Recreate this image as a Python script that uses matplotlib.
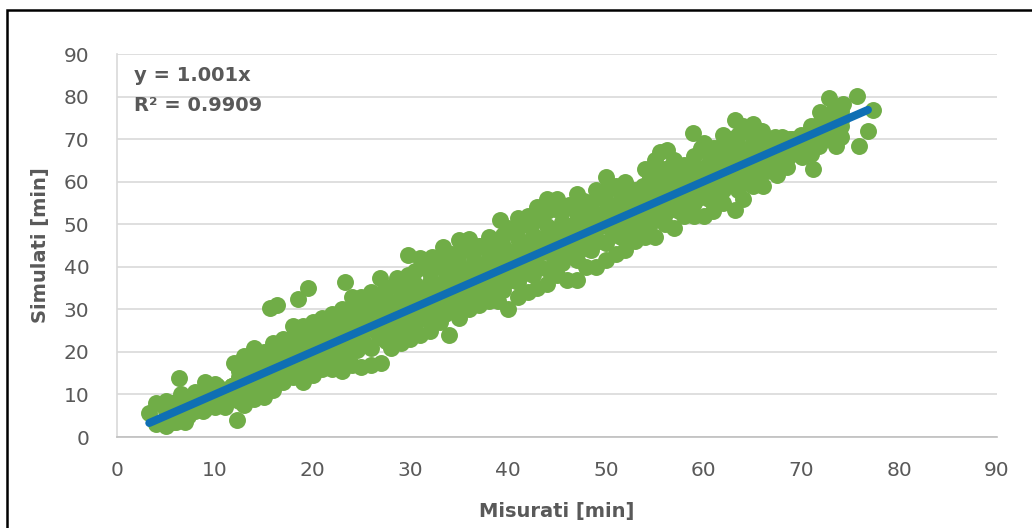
import matplotlib
matplotlib.use("Agg")
import matplotlib.pyplot as plt
from matplotlib.patches import Rectangle

plt.rcParams['font.family'] = ['DejaVu Sans']

# upper edge of the cloud (Misurati, Simulati) [min]
upper_x = [3.3, 4, 5, 6.3, 6.5, 8, 9, 10, 11, 12, 13, 14, 15, 15.6, 16.4, 16, 17, 18, 18.5, 19.5,
           19, 20, 21, 22, 23.3, 23, 24, 25, 26, 26.9, 28.6, 29.8, 31, 32.2, 33.3, 35, 36, 37, 38, 39.2,
           40, 41, 42, 43, 44, 45, 46, 47, 48, 49, 50, 51, 52, 53, 54, 55, 55.5, 56.2, 57, 58,
           58.9, 60, 61, 62, 63.2, 64, 65, 66, 67, 68, 69, 70, 71, 71.9, 72.8, 74.2, 75.7, 77.3]
upper_y = [5.6, 8, 8.5, 13.9, 10, 10.5, 13, 12.5, 11, 17.5, 19, 21, 20, 30.3, 31, 22, 23, 26, 32.4, 35,
           26, 27, 28, 29, 36.4, 30, 33, 33, 34, 37.4, 37.4, 42.8, 42, 42.3, 44.6, 46.3, 46.5, 45, 47, 51,
           49, 51.5, 52, 54, 56, 56, 54, 57, 55, 58, 61, 59, 60, 58, 63, 65, 67, 67.4, 65, 64,
           71.4, 69, 68, 71, 74.5, 73, 73.5, 72, 70, 70.5, 70, 71, 73, 76.4, 79.7, 78.2, 80.1, 76.8]

# lower edge of the cloud
lower_x = [4, 5, 6, 7, 8, 9, 10, 11, 12.3, 13, 14, 15, 16, 17, 18, 19, 20, 21, 22, 23, 24, 25, 26, 27,
           28, 29, 30, 31, 32, 33, 34, 35, 36, 37, 38, 39, 40, 41, 42, 43, 44, 45, 46, 47, 48, 49, 50,
           51, 52, 53, 54, 55, 56, 57, 58, 59, 60, 61, 62, 63.2, 64, 65, 66.1, 67.5, 68.5, 70.1, 71.2,
           73.5, 75.9, 76.8]
lower_y = [3, 2.5, 3.5, 3.5, 6, 6.5, 7, 7, 4, 7.5, 9, 9.5, 11, 13, 14, 13, 14.5, 16, 16, 15.5, 17, 16.5,
           17, 17.5, 21, 22, 23, 24, 25, 27, 24, 28, 30, 31, 32, 32, 30, 33, 34, 35, 36, 38, 37, 37, 40,
           40, 41.5, 43, 44, 46, 47, 47, 50, 49, 52, 52, 52, 53, 55, 53.3, 56, 59, 59, 61.6, 63.4, 65.8,
           63, 68.4, 68.4, 71.9]

# inner part of the cloud, read column by column
mid_x = [5, 6.5, 8, 9.5, 11, 12.5, 14, 15.5, 17, 18.5, 20, 21.5, 23, 24.5, 26, 27.5, 29, 30.5, 32, 33.5,
         35, 36.5, 38, 39.5, 41, 42.5, 44, 45.5, 47, 48.5, 50, 51.5, 53, 54.5, 56, 57.5, 59, 60.5, 62, 63.5,
         65, 66.5, 68, 69.5, 71, 72.5, 74]
mid_a = [3.5, 4.5, 6.5, 7.5, 8.5, 8.5, 11, 12, 14.5, 15.5, 16.5, 18, 19, 20.5, 21, 22.5, 25, 26.5, 28, 29,
         31, 33, 34.5, 34.5, 36.5, 38, 39.5, 41, 41.5, 44, 45.5, 47, 49, 50, 52.5, 53, 55, 56, 58, 58,
         61.5, 62.5, 65, 67, 66.5, 70, 70.5]
mid_b = [4.5, 5.5, 7.5, 8.5, 10, 11, 13.5, 14.5, 16, 17, 19.5, 20.5, 21.5, 23.5, 25.5, 26.5, 27.5, 29.5, 31.5, 32.5,
         33.5, 35.5, 37.5, 38.5, 39.5, 41.5, 43.5, 44.5, 45.5, 47.5, 49.5, 50.5, 51.5, 53.5, 55.5, 56.5, 57.5, 59.5, 61.5, 62.5,
         63.5, 65.5, 67.5, 68, 69.5, 71.5, 73]
mid_c = [6, 7.5, 9, 11, 11, 14, 16, 17.5, 19.5, 20.5, 22.5, 24, 25.5, 26.5, 28.5, 30, 31.5, 32.5, 34.5, 36,
         37.5, 38.5, 40.5, 42, 43.5, 44.5, 46.5, 48, 49.5, 50.5, 52.5, 54, 55.5, 56.5, 58.5, 60, 61.5, 62.5, 64.5, 66,
         67.5, 68, 69, 70, 71.5, 73.5, 75.5]
mid_d = [7.5, 9, 9, 11.5, 10.5, 15.5, 17.5, 18.5, 20.5, 22.5, 24, 25.5, 27, 29, 30.5, 32.5, 34, 36, 36.5, 39,
         40.5, 41.5, 43, 45, 46.5, 47.5, 49.5, 50.5, 52.5, 53, 55.5, 56, 56.5, 59, 61, 61.5, 64, 64.5, 66.5, 68.5,
         69.5, 69, 68.5, 69.5, 71, 74, 74.5]
mid_e = [7, 9, 9.5, 11, 10.5, 16, 19, 19.5, 21.5, 24, 26, 27, 28.5, 31, 32.5, 35, 36, 39, 38.5, 41.5,
         43, 44, 45, 47.5, 49, 50.5, 53, 53, 55, 55, 58, 57.5, 57, 61, 63, 62.5, 66, 66.5, 68.5, 71,
         71.5, 70, 69.5, 70, 72, 75.5, 76.5]

# second set of columns, between the first ones
stag_x = [5.75, 7.25, 8.75, 10.25, 11.75, 13.25, 14.75, 16.25, 17.75, 19.25, 20.75, 22.25, 23.75, 25.25,
          26.75, 28.25, 29.75, 31.25, 32.75, 34.25, 35.75, 37.25, 38.75, 40.25, 41.75, 43.25, 44.75, 46.25,
          47.75, 49.25, 50.75, 52.25, 53.75, 55.25, 56.75, 58.25, 59.75, 61.25, 62.75, 64.25, 65.75, 67.25,
          68.75, 70.25, 71.75, 73.25]
stag_a = [3.5, 5, 6, 7.5, 9, 10, 11.5, 13, 15, 16, 17.5, 19, 20.5, 22, 23.5, 25, 26.5, 28, 29.5, 31,
          32.5, 34, 35.5, 37, 38.5, 40, 41.5, 43, 44.5, 46, 47.5, 49, 50.5, 52, 53.5, 55, 56.5, 58, 59.5, 60.5,
          62.5, 64, 66, 67, 68.5, 70]
stag_b = [6, 7.5, 9, 10.5, 12, 13.5, 15, 16.5, 18, 19.5, 21, 22.5, 24, 25.5, 27, 28.5, 30, 31.5, 33, 34.5,
          36, 37.5, 39, 40.5, 42, 43.5, 45, 46.5, 48, 49.5, 51, 52.5, 54, 55.5, 57, 58.5, 60, 61.5, 63, 64.5,
          66, 67.5, 69, 70.5, 72, 73.5]
stag_c = [8, 9.5, 10, 12, 12, 16, 18, 19.5, 21, 22.5, 24, 25.5, 27, 28.5, 30, 31.5, 33, 34.5, 36, 37.5,
          39, 40.5, 42, 43.5, 45, 46.5, 48, 49.5, 51, 52.5, 54, 55.5, 56.5, 58.5, 60, 61.5, 63, 64.5, 66, 67.5,
          69, 69.5, 69.5, 70.5, 72.5, 75]
stag_d = [8, 9.5, 10.5, 12, 12, 17, 19.5, 21, 23, 25, 26.5, 28, 29.5, 31.5, 33.5, 35.5, 38, 40, 40.5, 43,
          44.5, 45, 46, 48.5, 50, 51.5, 53.5, 54.5, 55.5, 56.5, 58.5, 58.5, 59, 62, 64, 63.5, 68, 68, 70, 72,
          72, 70.5, 70, 70.5, 73.5, 76.5]

# trend line y = 1.001x over the measured range
trend_x = [3.3, 76.8]
slope = 1.001
r2 = 0.9909

misurati = upper_x + lower_x + mid_x * 5 + stag_x * 4
simulati = (upper_y + lower_y + mid_a + mid_b + mid_c + mid_d + mid_e
            + stag_a + stag_b + stag_c + stag_d)

fig = plt.figure(figsize=(10.32, 5.28), dpi=100)
ax = fig.add_axes([0.1134, 0.1723, 0.8527, 0.7254])

ax.plot(misurati, simulati, linestyle='none', marker='o', markersize=12.2,
        markerfacecolor='#70AD47', markeredgecolor='none', markeredgewidth=0.0, zorder=3)
ax.plot(trend_x, [slope * v for v in trend_x], color='#0F6FB4', linewidth=5.8,
        solid_capstyle='round', zorder=4)

ax.set_xlim(0, 90)
ax.set_ylim(0, 90)
ax.set_xticks(range(0, 91, 10))
ax.set_yticks(range(0, 91, 10))
ax.grid(axis='y', color='#D9D9D9', linewidth=1.2, zorder=0)
ax.tick_params(length=0, labelsize=14.5, colors='#595959')
ax.tick_params(axis='x', pad=17)
ax.tick_params(axis='y', pad=20)

for side in ['top', 'right']:
    ax.spines[side].set_visible(False)
ax.spines['left'].set_color('#D9D9D9')
ax.spines['bottom'].set_color('#BFBFBF')
ax.spines['left'].set_linewidth(1.2)
ax.spines['bottom'].set_linewidth(1.2)

ax.set_xlabel('Misurati [min]', fontsize=14, fontweight='bold', color='#595959', labelpad=16)
ax.set_ylabel('Simulati [min]', fontsize=14, fontweight='bold', color='#595959', labelpad=10)

ax.text(1.7, 85, 'y = %.3fx' % slope, fontsize=14, fontweight='bold', color='#595959',
        va='center', ha='left')
ax.text(1.7, 77.8, 'R² = %.4f' % r2, fontsize=14, fontweight='bold', color='#595959',
        va='center', ha='left')

# black frame around the picture
fig.patches.append(Rectangle((0.0068, -0.05), 1.2, 1.031, transform=fig.transFigure,
                             fill=False, edgecolor='black', linewidth=1.8))

fig.savefig('out.png', dpi=100)
